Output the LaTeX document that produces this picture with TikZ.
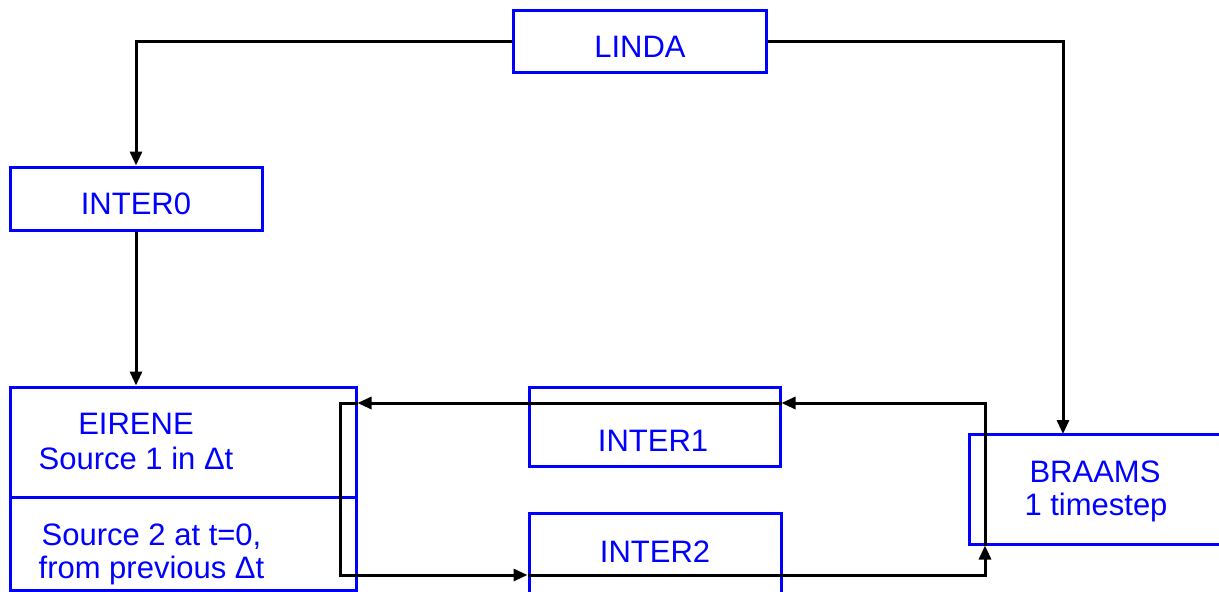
\documentclass[tikz,border=0pt]{standalone}
\usepackage{fontspec}
\setmainfont{Liberation Sans}
\usetikzlibrary{arrows.meta}
\definecolor{bblue}{RGB}{0,0,255}
\begin{document}
\begin{tikzpicture}[x=1pt,y=-1pt,
  box/.style={draw=bblue, line width=3pt, rectangle, inner sep=0pt},
  lbl/.style={text=bblue, font=\fontsize{31}{34}\selectfont, anchor=base, inner sep=0pt},
  conn/.style={line width=3pt},
  arr/.style={conn, -{Triangle[length=14pt,width=12pt]}}]
\clip (0,0) rectangle (1219,592);
\fill[white] (0,0) rectangle (1219,592);
% boxes
\node[box, minimum width=253pt, minimum height=62pt] (linda) at (639.5,41.5) {};
\node[box, minimum width=252pt, minimum height=63pt] (inter0) at (136,198.5) {};
\node[box, minimum width=346pt, minimum height=203pt] (eirene) at (183,488.5) {};
\node[box, minimum width=251pt, minimum height=79pt] (inter1) at (654.5,426.5) {};
\node[box, minimum width=252pt, minimum height=83pt] (inter2) at (655,554.5) {};
\node[box, minimum width=252pt, minimum height=110pt] (braams) at (1095,489) {};
\coordinate (divy) at (0,497);
\draw[bblue, line width=3pt] (eirene.west |- divy) -- (eirene.east |- divy);
% labels
\node[lbl] (tlinda) at (640,57) {LINDA};
\node[lbl] (tinter0) at (136,214) {INTER0};
\node[lbl] (teirene) at (136,434) {EIRENE};
\node[lbl] (tsrc1) at (136,469) {Source 1 in Δt};
\node[lbl] (tsrc2) at (151.5,545) {Source 2 at t=0,};
\node[lbl] (tprev) at (151.5,578) {from previous Δt};
\node[lbl] (tinter1) at (653,451) {INTER1};
\node[lbl] (tinter2) at (655,562) {INTER2};
\node[lbl] (tbraams) at (1095,482) {BRAAMS};
\node[lbl] (tstep) at (1096,515) {1 timestep};
% connectors
\coordinate (bin) at (1063,434);
\coordinate (tr) at (985,403);
\coordinate (tl) at (340,403);
\coordinate (bl) at (340,575);
\coordinate (br) at (985,575);
\draw[arr] (linda.west) -| (inter0.north);
\draw[arr] (linda.east) -| (bin);
\draw[arr] (inter0.south) -- (inter0.south |- eirene.north);
\draw[arr] (braams.south -| tr) -- (tr) -- (inter1.east |- tr);
\draw[arr] (inter1.east |- tr) -- (eirene.east |- tr);
\draw[arr] (eirene.east |- tr) -- (tl) -- (bl) -- (inter2.west |- bl);
\draw[arr] (inter2.west |- bl) -- (br) -- (braams.south -| br);
\end{tikzpicture}
\end{document}
